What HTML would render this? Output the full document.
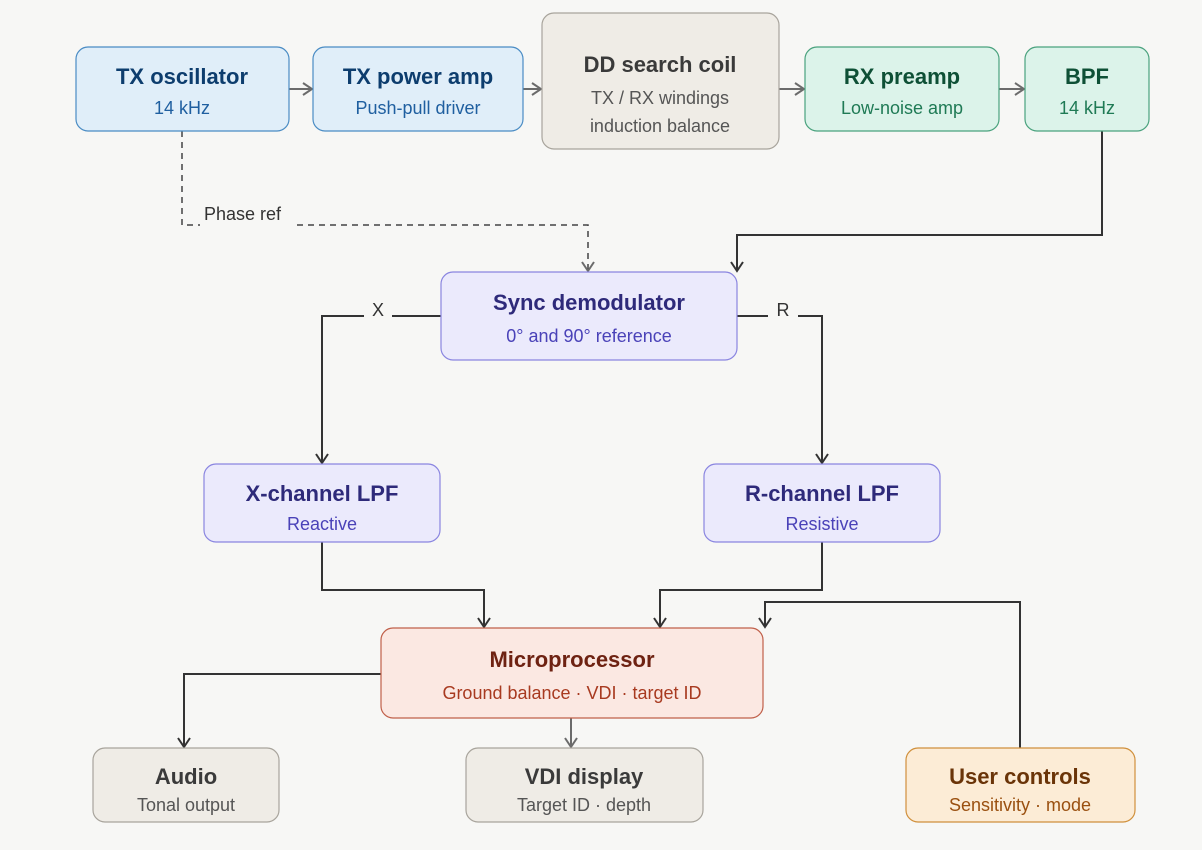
<!DOCTYPE html>
<html><head><meta charset="utf-8"><style>
body{margin:0;background:#f7f7f5;}
svg{display:block;font-family:"Liberation Sans",sans-serif;}
.t{font-size:22px;font-weight:bold;text-anchor:middle}
.s{font-size:18px;text-anchor:middle}
</style></head><body>
<svg width="1202" height="850" viewBox="0 0 1202 850">
<defs>
<marker id="a" markerWidth="16" markerHeight="16" refX="13" refY="8" orient="auto" markerUnits="userSpaceOnUse"><path d="M4,2 L13,8 L4,14" fill="none" stroke="#333" stroke-width="2"/></marker>
<marker id="g" markerWidth="16" markerHeight="16" refX="13" refY="8" orient="auto" markerUnits="userSpaceOnUse"><path d="M4,2 L13,8 L4,14" fill="none" stroke="#6b6b6b" stroke-width="2"/></marker>
</defs>
<rect width="1202" height="850" fill="#f7f7f5"/>
<g fill="none" stroke="#6b6b6b" stroke-width="2">
<line x1="289" y1="89" x2="312" y2="89" marker-end="url(#g)"/>
<line x1="523" y1="89" x2="541" y2="89" marker-end="url(#g)"/>
<line x1="779" y1="89" x2="804" y2="89" marker-end="url(#g)"/>
<line x1="999" y1="89" x2="1024" y2="89" marker-end="url(#g)"/>
<line x1="571" y1="718" x2="571" y2="747" marker-end="url(#g)"/>
</g>
<path d="M182,131 V225 H200 M297,225 H588 V271" fill="none" stroke="#444" stroke-width="1.5" stroke-dasharray="6,5" marker-end="url(#g)"/>
<text x="204" y="220" font-size="18" fill="#333">Phase ref</text>
<g fill="none" stroke="#333" stroke-width="2" marker-end="url(#a)">
<path d="M1102,131 V235 H737 V271"/>
<path d="M441,316 H392 M364,316 H322 V463"/>
<path d="M737,316 H768 M798,316 H822 V463"/>
<path d="M322,542 V590 H484 V627"/>
<path d="M822,542 V590 H660 V627"/>
<path d="M1020,748 V602 H765 V627"/>
<path d="M381,674 H184 V747"/>
</g>
<text x="378" y="316" font-size="18" fill="#333" text-anchor="middle">X</text>
<text x="783" y="316" font-size="18" fill="#333" text-anchor="middle">R</text>
<g stroke-width="1.2">
<rect x="76" y="47" width="213" height="84" rx="12" fill="#e0eef9" stroke="#4a8cc4"/>
<rect x="313" y="47" width="210" height="84" rx="12" fill="#e0eef9" stroke="#4a8cc4"/>
<rect x="542" y="13" width="237" height="136" rx="12" fill="#efece6" stroke="#a8a49c"/>
<rect x="805" y="47" width="194" height="84" rx="12" fill="#dcf3ea" stroke="#4aa27e"/>
<rect x="1025" y="47" width="124" height="84" rx="12" fill="#dcf3ea" stroke="#4aa27e"/>
<rect x="441" y="272" width="296" height="88" rx="12" fill="#ebeafc" stroke="#8a85e0"/>
<rect x="204" y="464" width="236" height="78" rx="12" fill="#ebeafc" stroke="#8a85e0"/>
<rect x="704" y="464" width="236" height="78" rx="12" fill="#ebeafc" stroke="#8a85e0"/>
<rect x="381" y="628" width="382" height="90" rx="12" fill="#fbe8e2" stroke="#c0604a"/>
<rect x="93" y="748" width="186" height="74" rx="12" fill="#efece6" stroke="#a8a49c"/>
<rect x="466" y="748" width="237" height="74" rx="12" fill="#efece6" stroke="#a8a49c"/>
<rect x="906" y="748" width="229" height="74" rx="12" fill="#fcecd6" stroke="#d0903c"/>
</g>
<g>
<text class="t" x="182" y="84" fill="#0d3d6e">TX oscillator</text><text class="s" x="182" y="114" fill="#1f5fa0">14 kHz</text>
<text class="t" x="418" y="84" fill="#0d3d6e">TX power amp</text><text class="s" x="418" y="114" fill="#1f5fa0">Push-pull driver</text>
<text class="t" x="660" y="72" fill="#3a3a3a">DD search coil</text><text class="s" x="660" y="104" fill="#555">TX / RX windings</text><text class="s" x="660" y="132" fill="#555">induction balance</text>
<text class="t" x="902" y="84" fill="#0e5036">RX preamp</text><text class="s" x="902" y="114" fill="#1f7a55">Low-noise amp</text>
<text class="t" x="1087" y="84" fill="#0e5036">BPF</text><text class="s" x="1087" y="114" fill="#1f7a55">14 kHz</text>
<text class="t" x="589" y="310" fill="#2e2a7a">Sync demodulator</text><text class="s" x="589" y="342" fill="#4a42b8">0° and 90° reference</text>
<text class="t" x="322" y="501" fill="#2e2a7a">X-channel LPF</text><text class="s" x="322" y="530" fill="#4a42b8">Reactive</text>
<text class="t" x="822" y="501" fill="#2e2a7a">R-channel LPF</text><text class="s" x="822" y="530" fill="#4a42b8">Resistive</text>
<text class="t" x="572" y="667" fill="#6e2212">Microprocessor</text><text class="s" x="572" y="699" fill="#a83a20">Ground balance · VDI · target ID</text>
<text class="t" x="186" y="784" fill="#3a3a3a">Audio</text><text class="s" x="186" y="811" fill="#555">Tonal output</text>
<text class="t" x="584" y="784" fill="#3a3a3a">VDI display</text><text class="s" x="584" y="811" fill="#555">Target ID · depth</text>
<text class="t" x="1020" y="784" fill="#6a3408">User controls</text><text class="s" x="1020" y="811" fill="#9a5010">Sensitivity · mode</text>
</g>
</svg>
</body></html>
